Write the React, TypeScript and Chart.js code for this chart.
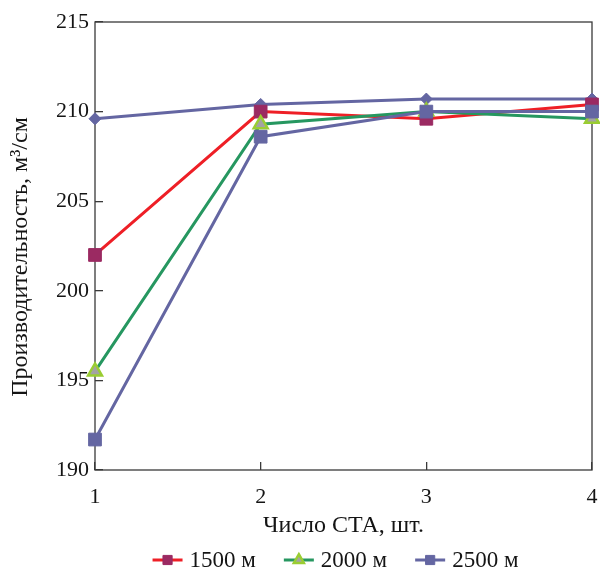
import React, { useEffect, useRef } from 'react';
import { Chart, registerables } from 'chart.js';
import { drawPoint } from 'chart.js/helpers';

Chart.register(...registerables);

const xValues = [1, 2, 3, 4];
const series1500 = [202.0, 210.0, 209.6, 210.4];
const series2000 = [195.5, 209.3, 210.0, 209.6];
const series2500 = [191.7, 208.6, 210.0, 210.0];
const seriesTop = [209.6, 210.4, 210.7, 210.7];
const seriesLabels = ['1500 м', '2000 м', '2500 м'];
const yMin = 190;
const yMax = 215;
const yStep = 5;
const xTitle = 'Число СТА, шт.';
const yTitle = 'Производительность, м³/см';

const FONT = "'Liberation Serif', 'Times New Roman', serif";
const AXIS = '#3a3a3a';
const TEXT = '#141414';

const toPoints = (ys: number[]) => xValues.map((x, i) => ({ x, y: ys[i] }));

const frameAndLegend = {
  id: 'frameAndLegend',
  beforeDatasetsDraw(chart: any) {
    const { ctx, chartArea: a } = chart;
    ctx.save();
    ctx.strokeStyle = AXIS;
    ctx.lineWidth = 1.3;
    ctx.strokeRect(a.left, a.top, a.right - a.left, a.bottom - a.top);
    ctx.restore();
  },
  afterDraw(chart: any) {
    const { ctx, chartArea: a } = chart;
    // y axis title
    ctx.save();
    ctx.font = `24px ${FONT}`;
    ctx.fillStyle = TEXT;
    ctx.textAlign = 'center';
    ctx.textBaseline = 'middle';
    ctx.translate(21, (a.top + a.bottom) / 2 + 11);
    ctx.rotate(-Math.PI / 2);
    ctx.fillText(yTitle, 0, 0);
    ctx.restore();

    // legend
    const items = chart.data.datasets.filter((d: any) => d.inLegend);
    ctx.save();
    ctx.font = `23px ${FONT}`;
    ctx.textBaseline = 'middle';
    ctx.textAlign = 'left';
    const lineLen = 30;
    const gapText = 7;
    const gapItem = 28;
    const widths = items.map((d: any) => lineLen + gapText + ctx.measureText(d.label).width);
    const total = widths.reduce((s: number, w: number) => s + w, 0) + gapItem * (items.length - 1);
    let x = (a.left + a.right) / 2 - 8 - total / 2;
    const y = 560;
    items.forEach((d: any, i: number) => {
      ctx.strokeStyle = d.borderColor;
      ctx.lineWidth = d.borderWidth;
      ctx.beginPath();
      ctx.moveTo(x, y);
      ctx.lineTo(x + lineLen, y);
      ctx.stroke();
      ctx.fillStyle = d.pointBackgroundColor;
      ctx.strokeStyle = d.pointBorderColor;
      ctx.lineWidth = d.pointBorderWidth;
      drawPoint(ctx, { pointStyle: d.pointStyle, radius: d.pointRadius * 0.72, rotation: 0, borderWidth: d.pointBorderWidth }, x + lineLen / 2, y);
      ctx.fillStyle = TEXT;
      ctx.fillText(d.label, x + lineLen + gapText, y + 1);
      x += widths[i] + gapItem;
    });
    ctx.restore();
  },
};

export default function App() {
  const ref = useRef<HTMLCanvasElement | null>(null);
  useEffect(() => {
    if (!ref.current) return;
    const chart = new Chart(ref.current, {
      type: 'line',
      data: {
        datasets: [
          {
            label: seriesLabels[0],
            inLegend: true,
            data: toPoints(series1500),
            borderColor: '#ee1f26',
            borderWidth: 3,
            pointStyle: 'rect',
            pointRadius: 9,
            pointBackgroundColor: '#9b2a62',
            pointBorderColor: '#9b2a62',
            pointBorderWidth: 1,
            clip: false,
            order: 2,
          },
          {
            label: seriesLabels[1],
            inLegend: true,
            data: toPoints(series2000),
            borderColor: '#269760',
            borderWidth: 3,
            pointStyle: 'triangle',
            pointRadius: 8,
            pointBackgroundColor: '#a3a3a3',
            pointBorderColor: '#9acd32',
            pointBorderWidth: 2.5,
            clip: false,
            order: 1,
          },
          {
            label: seriesLabels[2],
            inLegend: true,
            data: toPoints(series2500),
            borderColor: '#6466a2',
            borderWidth: 3,
            pointStyle: 'rect',
            pointRadius: 9,
            pointBackgroundColor: '#6466a2',
            pointBorderColor: '#6466a2',
            pointBorderWidth: 1,
            clip: false,
            order: 0,
          },
          {
            label: '',
            inLegend: false,
            data: toPoints(seriesTop),
            borderColor: '#6466a2',
            borderWidth: 3,
            pointStyle: 'rectRot',
            pointRadius: 6,
            pointBackgroundColor: '#6466a2',
            pointBorderColor: '#6466a2',
            pointBorderWidth: 1,
            clip: false,
            order: 3,
          },
        ] as any,
      },
      options: {
        responsive: false,
        animation: false,
        layout: { autoPadding: false, padding: { left: 0, right: 8, top: 22, bottom: 31 } },
        plugins: {
          legend: { display: false },
          tooltip: { enabled: false },
        },
        scales: {
          x: {
            type: 'linear',
            min: 1,
            max: 4,
            border: { display: false },
            grid: { drawOnChartArea: false, drawTicks: true, tickLength: -8, color: AXIS, lineWidth: 1.3 },
            ticks: { stepSize: 1, padding: 22, color: TEXT, font: { family: FONT, size: 22 } },
            title: { display: true, text: xTitle, color: TEXT, font: { family: FONT, size: 24 }, padding: { top: 0, bottom: 0 } },
            afterFit: (s: any) => { s.height = 70; s.paddingLeft = 0; s.paddingRight = 0; },
          },
          y: {
            type: 'linear',
            min: yMin,
            max: yMax,
            border: { display: false },
            grid: { drawOnChartArea: false, drawTicks: true, tickLength: -8, color: AXIS, lineWidth: 1.3 },
            ticks: { stepSize: yStep, padding: 14, color: TEXT, font: { family: FONT, size: 22 } },
            title: { display: false },
            afterFit: (s: any) => { s.width = 95; s.paddingTop = 0; s.paddingBottom = 0; },
          },
        },
      },
      plugins: [frameAndLegend],
    } as any);
    return () => chart.destroy();
  }, []);
  return (
    <div style={{ position: 'fixed', left: 0, top: 0, width: 600, height: 571, background: '#fff' }}>
      <canvas ref={ref} width={600} height={571} style={{ display: 'block' }} />
    </div>
  );
}
